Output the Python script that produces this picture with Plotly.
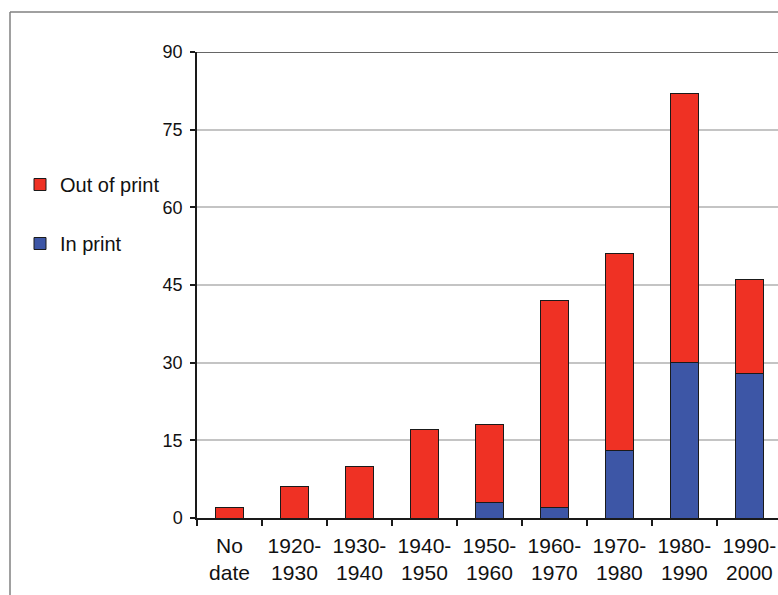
import plotly.graph_objects as go

categories = ["No<br>date", "1920-<br>1930", "1930-<br>1940", "1940-<br>1950", "1950-<br>1960",
              "1960-<br>1970", "1970-<br>1980", "1980-<br>1990", "1990-<br>2000"]
in_print = [0, 0, 0, 0, 3, 2, 13, 30, 28]
out_of_print = [2, 6, 10, 17, 15, 40, 38, 52, 18]
y_ticks = [0, 15, 30, 45, 60, 75, 90]

RED = "#EF3124"
BLUE = "#3D56A6"
FONT = "Liberation Sans, Arial, sans-serif"

fig = go.Figure()
fig.add_trace(go.Bar(x=categories, y=in_print, name="In print", width=0.42,
                     marker=dict(color=BLUE, line=dict(color="#1a1a1a", width=1)),
                     legendgroup="b", legendrank=2))
fig.add_trace(go.Bar(x=categories, y=out_of_print, name="Out of print", width=0.42,
                     marker=dict(color=RED, line=dict(color="#1a1a1a", width=1)),
                     legendgroup="a", legendrank=1))

W, H = 778, 595
L, T = 197, 52
B = H - 518
R = 0
pw, ph = W - L - R, H - T - B

def px(x):
    return (x - L) / pw

def py(y):
    return 1 - (y - T) / ph

fig.update_layout(
    width=W, height=H,
    barmode="stack",
    margin=dict(l=L, r=R, t=T, b=B),
    paper_bgcolor="white", plot_bgcolor="white",
    font=dict(family=FONT, size=18, color="#111111"),
    showlegend=True,
    legend=dict(x=px(20), y=py(165), xanchor="left", yanchor="top",
                traceorder="grouped", tracegroupgap=30,
                font=dict(family=FONT, size=20, color="#111111"),
                bgcolor="rgba(0,0,0,0)"),
    xaxis=dict(range=[-0.5, 8.44], showline=True, linecolor="#1a1a1a", linewidth=1.5,
               ticks="outside", tickson="boundaries", ticklen=6, tickcolor="#1a1a1a",
               tickwidth=1.5, showgrid=False, tickfont=dict(size=21), fixedrange=True,
               ticklabelstandoff=8),
    yaxis=dict(range=[0, 90], tickvals=y_ticks, showline=True, linecolor="#1a1a1a",
               linewidth=1.5, ticks="outside", ticklen=5, tickcolor="#1a1a1a",
               tickwidth=1.5, showgrid=True, gridcolor="#c4c4c4", gridwidth=1.5,
               zeroline=False, tickfont=dict(size=18), ticklabelstandoff=4),
    shapes=[
        dict(type="line", xref="paper", yref="y", x0=0, x1=1, y0=90, y1=90,
             line=dict(color="#333333", width=1.5), layer="above"),
        dict(type="line", xref="paper", yref="paper", x0=px(10), x1=1.01, y0=py(12), y1=py(12),
             line=dict(color="#808080", width=1.5)),
        dict(type="line", xref="paper", yref="paper", x0=px(10), x1=px(10), y0=py(12), y1=py(600),
             line=dict(color="#808080", width=1.5)),
    ],
)

fig.write_html("out.html", config={"displayModeBar": False},
               post_script="document.body.style.margin='0';document.body.style.overflow='hidden';")
